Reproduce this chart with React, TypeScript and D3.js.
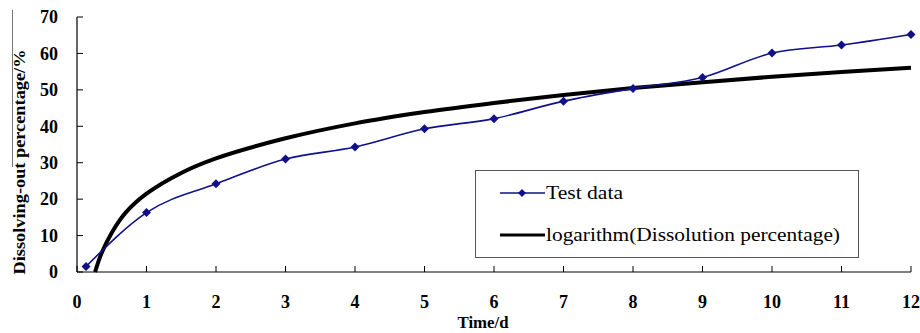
import React from "react";
import * as d3 from "d3";

const xTicks = [0, 1, 2, 3, 4, 5, 6, 7, 8, 9, 10, 11, 12];
const yTicks = [0, 10, 20, 30, 40, 50, 60, 70];

const testX = [0.13, 1, 2, 3, 4, 5, 6, 7, 8, 9, 10, 11, 12];
const testY = [1.5, 16.3, 24.2, 31.0, 34.3, 39.3, 42.1, 46.9, 50.4, 53.4, 60.1, 62.3, 65.2];

const logX = [0.26, 0.35, 0.5, 0.7, 1, 1.5, 2, 3, 4, 5, 6, 7, 8, 9, 10, 11, 12];
const logY = [0, 5.0, 10.8, 16.3, 21.5, 27.2, 31.2, 36.7, 40.8, 43.9, 46.4, 48.6, 50.5, 52.1, 53.6, 54.9, 56.1];

const W = 920;
const H = 333;
const L = 77;
const R = 911;
const T = 17;
const B = 272;

const FONT = "'Liberation Serif', 'Times New Roman', Times, serif";

export default function App() {
  const x = d3.scaleLinear().domain([0, 12]).range([L, R]);
  const y = d3.scaleLinear().domain([0, 70]).range([B, T]);

  const testPts: [number, number][] = testX.map((v, i) => [v, testY[i]]);
  const logPts: [number, number][] = logX.map((v, i) => [v, logY[i]]);

  const testLine = d3
    .line<[number, number]>()
    .x((d) => x(d[0]))
    .y((d) => y(d[1]))
    .curve(d3.curveMonotoneX);
  const logLine = d3
    .line<[number, number]>()
    .x((d) => x(d[0]))
    .y((d) => y(d[1]))
    .curve(d3.curveCatmullRom.alpha(0.5));

  const blue = "#10108a";
  const diamond = (cx: number, cy: number, r: number) =>
    `M${cx},${cy - r}L${cx + r},${cy}L${cx},${cy + r}L${cx - r},${cy}Z`;
  const ts = { fontFamily: FONT } as React.CSSProperties;

  return (
    <svg
      width={W}
      height={H}
      style={{ position: "absolute", left: 0, top: 0, background: "#fff", fontFamily: FONT }}
    >
      <rect x={0} y={0} width={W} height={H} fill="#fff" />
      <line x1={12.5} y1={10} x2={12.5} y2={167} stroke="#777" strokeWidth={1} />

      <line x1={L} y1={T} x2={L} y2={B} stroke="#000" strokeWidth={1.2} />
      <line x1={L} y1={B} x2={R} y2={B} stroke="#000" strokeWidth={1.2} />
      {yTicks.map((t) => (
        <g key={"y" + t}>
          <line x1={L} x2={L + 6} y1={y(t)} y2={y(t)} stroke="#000" strokeWidth={1} />
          <text
            x={58}
            y={y(t)}
            dy="0.35em"
            textAnchor="end"
            fontSize={18}
            fontWeight="bold"
            style={ts}
          >
            {t}
          </text>
        </g>
      ))}
      {xTicks.map((t) => (
        <g key={"x" + t}>
          <line x1={x(t)} x2={x(t)} y1={B} y2={B - 6} stroke="#000" strokeWidth={1} />
          <text x={x(t)} y={308} textAnchor="middle" fontSize={18} fontWeight="bold" style={ts}>
            {t}
          </text>
        </g>
      ))}
      <text
        x={483}
        y={328}
        textAnchor="middle"
        fontSize={17}
        fontWeight="bold"
        style={ts}
        textLength={51}
        lengthAdjust="spacingAndGlyphs"
      >
        Time/d
      </text>
      <text
        transform={`translate(25,162) rotate(-90)`}
        textAnchor="middle"
        fontSize={17}
        fontWeight="bold"
        style={ts}
        textLength={225}
        lengthAdjust="spacingAndGlyphs"
      >
        Dissolving-out percentage/%
      </text>

      <path d={logLine(logPts) || ""} fill="none" stroke="#000" strokeWidth={4} />
      <path d={testLine(testPts) || ""} fill="none" stroke={blue} strokeWidth={1.6} />
      {testPts.map((d, i) => (
        <path key={"m" + i} d={diamond(x(d[0]), y(d[1]), 4.5)} fill={blue} />
      ))}

      <rect x={475.5} y={170.5} width={383} height={87} fill="#fff" stroke="#555" strokeWidth={1} />
      <line x1={500} x2={545} y1={193} y2={193} stroke={blue} strokeWidth={1.6} />
      <path d={diamond(522, 193, 4)} fill={blue} />
      <text
        x={546}
        y={199}
        fontSize={18}
        style={ts}
        textLength={77}
        lengthAdjust="spacingAndGlyphs"
      >
        Test data
      </text>
      <line x1={500} x2={545} y1={235} y2={235} stroke="#000" strokeWidth={3} />
      <text
        x={546}
        y={241}
        fontSize={18}
        style={ts}
        textLength={294}
        lengthAdjust="spacingAndGlyphs"
      >
        logarithm(Dissolution percentage)
      </text>
    </svg>
  );
}
